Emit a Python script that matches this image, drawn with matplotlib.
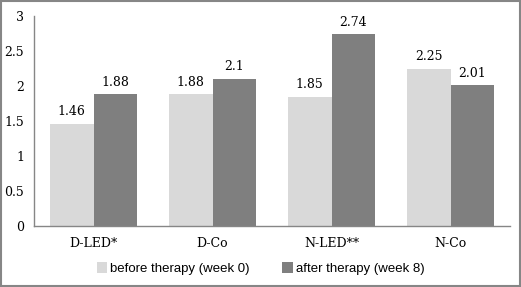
import matplotlib
matplotlib.use("Agg")
import matplotlib.pyplot as plt
import numpy as np
from matplotlib.patches import Rectangle

categories = ["D-LED*", "D-Co", "N-LED**", "N-Co"]
before = [1.46, 1.88, 1.85, 2.25]
after = [1.88, 2.1, 2.74, 2.01]
series_names = ["before therapy (week 0)", "after therapy (week 8)"]
colors = ["#d9d9d9", "#7f7f7f"]

fig = plt.figure(figsize=(5.21, 2.87), dpi=100)
ax = fig.add_axes([34 / 521, 1 - 226 / 287, 476 / 521, 210 / 287])

x = np.arange(len(categories))
w = 0.365
serif = "DejaVu Serif"
b1 = ax.bar(x - w / 2, before, w, color=colors[0], label=series_names[0])
b2 = ax.bar(x + w / 2, after, w, color=colors[1], label=series_names[1])

for bars, vals in ((b1, before), (b2, after)):
    for rect, v in zip(bars, vals):
        ax.text(rect.get_x() + rect.get_width() / 2, v + 0.08, f"{v:g}",
                ha="center", va="bottom", fontsize=9, family=serif)

ax.set_xlim(-0.5, len(categories) - 0.5)
ax.set_ylim(0, 3)
ax.set_yticks(np.arange(0, 3.01, 0.5))
ax.set_yticklabels(["0", "0.5", "1", "1.5", "2", "2.5", "3"], family=serif, fontsize=9)
ax.set_xticks(x)
ax.set_xticklabels(categories, family=serif, fontsize=9)
ax.tick_params(axis="both", length=0, pad=7)
ax.tick_params(axis="x", pad=8)
for s in ("top", "right"):
    ax.spines[s].set_visible(False)
for s in ("left", "bottom"):
    ax.spines[s].set_color("#868686")
    ax.spines[s].set_linewidth(1.0)

leg = fig.legend(loc="lower center", bbox_to_anchor=(0.5, 0.0), ncol=2, frameon=False,
                 prop={"family": "Liberation Sans", "size": 9.5}, handlelength=0.8,
                 handleheight=0.8, handletextpad=0.2, columnspacing=2.5)

fig.patches.append(Rectangle((0.002, 0.003), 0.996, 0.994, transform=fig.transFigure,
                             fill=False, edgecolor="#868686", linewidth=1.5))

fig.savefig("out.png", dpi=100)
